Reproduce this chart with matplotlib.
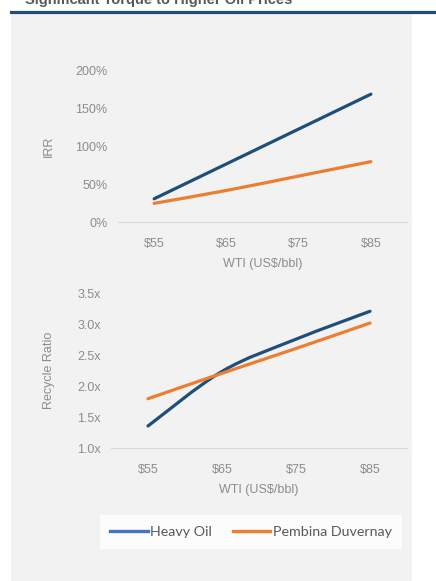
import numpy as np
from matplotlib import pyplot as plt
from matplotlib.path import Path
from matplotlib.patches import PathPatch, Rectangle
from matplotlib.lines import Line2D

plt.rcParams['font.family'] = ['Liberation Sans', 'DejaVu Sans']

wti = ["$55", "$65", "$75", "$85"]
irr_heavy = [31, 77, 123, 169]
irr_pembina = [25, 42, 61, 80]
recycle_heavy = [1.36, 2.24, 2.76, 3.21]
recycle_pembina = [1.80, 2.21, 2.61, 3.02]
irr_ticks = [0, 50, 100, 150, 200]
recycle_ticks = [1.0, 1.5, 2.0, 2.5, 3.0, 3.5]

navy = "#1f4e79"
orange = "#ed7d31"
legend_blue = "#4472c4"
grey_text = "#8c8c8c"


def smooth_line(ax, xs, ys, color):
    # excel style smoothed line, catmull-rom control points -> cubic bezier
    pts = np.column_stack([xs, ys]).astype(float)
    verts = [pts[0]]
    codes = [Path.MOVETO]
    n = len(pts)
    for i in range(n - 1):
        p0 = pts[i - 1] if i > 0 else pts[i]
        p1 = pts[i]
        p2 = pts[i + 1]
        p3 = pts[i + 2] if i + 2 < n else pts[i + 1]
        c1 = p1 + (p2 - p0) / 6
        c2 = p2 - (p3 - p1) / 6
        verts += [c1, c2, p2]
        codes += [Path.CURVE4] * 3
    patch = PathPatch(Path(verts, codes), facecolor="none", edgecolor=color,
                      lw=2.3, capstyle="round", joinstyle="round")
    ax.add_patch(patch)


fig = plt.figure(figsize=(4.36, 5.81), dpi=100)
fig.patch.set_facecolor("white")

# grey panel + header rule
fig.add_artist(Rectangle((11 / 436, 0), 401 / 436, 1 - 14 / 581,
                         transform=fig.transFigure, facecolor="#f2f2f2",
                         edgecolor="none", zorder=-5))
fig.add_artist(Line2D([11 / 436, 1], [1 - 11.5 / 581] * 2, color="#1f4e79", lw=2.3))
fig.text(25 / 436, 1 - 4 / 581, "Significant Torque to Higher Oil Prices",
         fontsize=10.5, fontweight="bold", color="#595959", va="baseline")

x = np.arange(len(wti))


def style_axes(ax, ticks, fmt, ylabel, label_x):
    ax.set_facecolor("none")
    for s in ["top", "right", "left"]:
        ax.spines[s].set_visible(False)
    ax.spines["bottom"].set_color("#d9d9d9")
    ax.spines["bottom"].set_linewidth(0.8)
    ax.set_xlim(-0.5, 3.5)
    ax.set_xticks(x)
    ax.set_xticklabels(wti)
    ax.set_yticks(ticks)
    ax.set_yticklabels([fmt(t) for t in ticks])
    ax.tick_params(length=0, colors=grey_text, labelsize=9)
    ax.tick_params(axis="x", pad=11)
    ax.tick_params(axis="y", pad=7.5)
    ax.set_xlabel("WTI (US$/bbl)", color=grey_text, fontsize=9, labelpad=6)
    ax.set_ylabel(ylabel, color=grey_text, fontsize=9, va="center")
    ax.yaxis.set_label_coords(label_x, 0.5)


ax1 = fig.add_axes([118 / 436, 1 - 222.3 / 581, 289 / 436, 151.6 / 581])
smooth_line(ax1, x, irr_heavy, navy)
smooth_line(ax1, x, irr_pembina, orange)
ax1.set_ylim(0, 200)
style_axes(ax1, irr_ticks, lambda t: f"{t}%", "IRR", (49 - 118) / 289)

ax2 = fig.add_axes([111 / 436, 1 - 448.3 / 581, 296 / 436, 155 / 581])
smooth_line(ax2, x, recycle_heavy, navy)
smooth_line(ax2, x, recycle_pembina, orange)
ax2.set_ylim(1.0, 3.5)
style_axes(ax2, recycle_ticks, lambda t: f"{t:.1f}x", "Recycle Ratio", (49 - 111) / 296)

handles = [Line2D([], [], color=legend_blue, lw=2.4),
           Line2D([], [], color=orange, lw=2.4)]
leg = fig.legend(handles, ["Heavy Oil", "Pembina Duvernay"], ncol=2,
                 loc="center", bbox_to_anchor=(251 / 436, 1 - 532 / 581),
                 frameon=True, fancybox=False, handlelength=2.6,
                 handletextpad=0.15, columnspacing=1.5, borderpad=0.75,
                 prop={"family": ["Lato", "DejaVu Sans"], "size": 10.3})
leg.get_frame().set_facecolor("white")
leg.get_frame().set_edgecolor("none")
for t in leg.get_texts():
    t.set_color("#595959")

fig.savefig("out.png", dpi=100)
